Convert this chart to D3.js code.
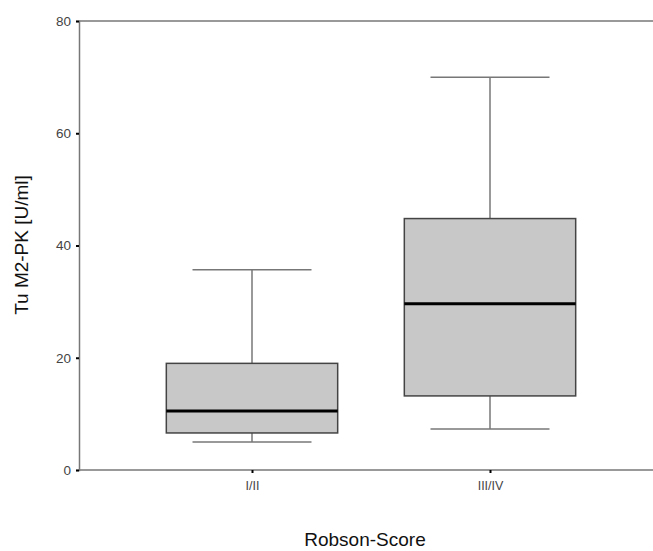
<!DOCTYPE html>
<html>
<head>
<meta charset="utf-8">
<script src="https://cdn.jsdelivr.net/npm/d3@7"></script>
<style>
  body { margin: 0; background: #fff; }
  text { font-family: "Liberation Sans", Arial, sans-serif; }
</style>
</head>
<body>
<svg id="chart" width="653" height="551"></svg>
<script>
// data
const categories = ["I/II", "III/IV"];
const whiskerLow = [5.0, 7.3];
const q1 = [6.6, 13.2];
const median = [10.5, 29.6];
const q3 = [19.0, 44.8];
const whiskerHigh = [35.7, 70.0];
const yTicks = [0, 20, 40, 60, 80];

const svg = d3.select("#chart");
const plotLeft = 79, plotTop = 21, plotBottom = 470, plotRight = 653;

let y = d3.scaleLinear().domain([0, 80]).range([plotBottom, plotTop]);
let x = d3.scalePoint().domain(categories).range([252, 490]);
const step = x.step();
const boxW = step * 0.72, capW = step * 0.5;

let boxes = categories.map((c, i) => ({
    cat: c, lo: whiskerLow[i], q1: q1[i], med: median[i], q3: q3[i], hi: whiskerHigh[i]
}));

// top frame line runs to the right edge
svg.append("line").attr("x1", plotLeft).attr("x2", plotRight).attr("y1", plotTop).attr("y2", plotTop)
    .attr("stroke", "#777").attr("stroke-width", 1.5);

// y axis
let yAxis = svg.append("g").attr("transform", `translate(${plotLeft},0)`)
    .call(d3.axisLeft(y).tickValues(yTicks).tickSize(3).tickPadding(5));
yAxis.select(".domain").attr("stroke", "#777").attr("stroke-width", 1.5);
yAxis.selectAll(".tick line").attr("stroke", "#000").attr("stroke-width", 2);
yAxis.selectAll(".tick text").attr("font-size", 13.5).attr("fill", "#444");

// x axis
let xAxis = svg.append("g").attr("transform", `translate(0,${plotBottom})`)
    .call(d3.axisBottom(x).tickSize(3).tickPadding(8));
xAxis.select(".domain").attr("d", `M${plotLeft},0H${plotRight}`).attr("stroke", "#777").attr("stroke-width", 1.5);
xAxis.selectAll(".tick line").attr("stroke", "#000").attr("stroke-width", 2);
xAxis.selectAll(".tick text").attr("font-size", 12.5).attr("fill", "#444");

// boxplots
let g = svg.selectAll("g.box").data(boxes).enter().append("g").attr("class", "box");

g.append("line") // upper whisker
    .attr("x1", d => x(d.cat)).attr("x2", d => x(d.cat))
    .attr("y1", d => y(d.hi)).attr("y2", d => y(d.q3))
    .attr("stroke", "#555").attr("stroke-width", 1.2);
g.append("line") // lower whisker
    .attr("x1", d => x(d.cat)).attr("x2", d => x(d.cat))
    .attr("y1", d => y(d.q1)).attr("y2", d => y(d.lo))
    .attr("stroke", "#555").attr("stroke-width", 1.2);
g.append("line")
    .attr("x1", d => x(d.cat) - capW / 2).attr("x2", d => x(d.cat) + capW / 2)
    .attr("y1", d => y(d.hi)).attr("y2", d => y(d.hi))
    .attr("stroke", "#777").attr("stroke-width", 1.5);
g.append("line")
    .attr("x1", d => x(d.cat) - capW / 2).attr("x2", d => x(d.cat) + capW / 2)
    .attr("y1", d => y(d.lo)).attr("y2", d => y(d.lo))
    .attr("stroke", "#777").attr("stroke-width", 1.5);
g.append("rect")
    .attr("x", d => x(d.cat) - boxW / 2).attr("width", boxW)
    .attr("y", d => y(d.q3)).attr("height", d => y(d.q1) - y(d.q3))
    .attr("fill", "#c8c8c8").attr("stroke", "#444").attr("stroke-width", 1.5);
g.append("line")
    .attr("x1", d => x(d.cat) - boxW / 2).attr("x2", d => x(d.cat) + boxW / 2)
    .attr("y1", d => y(d.med)).attr("y2", d => y(d.med))
    .attr("stroke", "#000").attr("stroke-width", 3);

// titles
svg.append("text").attr("x", 365).attr("y", 546).attr("text-anchor", "middle")
    .attr("font-size", 19).attr("fill", "#111").text("Robson-Score");
svg.append("text").attr("transform", "translate(28,245) rotate(-90)").attr("text-anchor", "middle")
    .attr("font-size", 19).attr("fill", "#111").text("Tu M2-PK [U/ml]");
</script>
</body>
</html>
